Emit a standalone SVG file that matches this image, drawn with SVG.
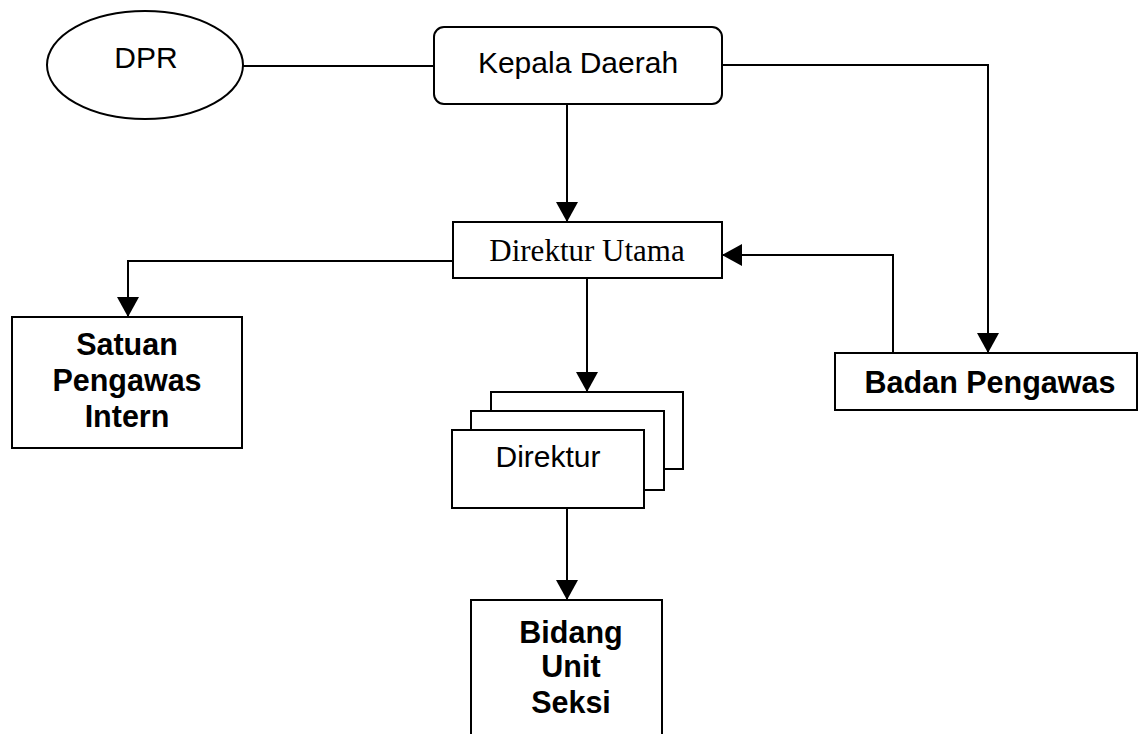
<svg xmlns="http://www.w3.org/2000/svg" width="1142" height="734" viewBox="0 0 1142 734">
<style>
.box{fill:#fff;stroke:#000;stroke-width:2}
.c{fill:none;stroke:#000;stroke-width:2}
.s{font-family:"Liberation Sans",Arial,sans-serif;font-size:30px;fill:#000;text-anchor:middle}
.b{font-family:"Liberation Sans",Arial,sans-serif;font-size:30.5px;font-weight:bold;fill:#000;text-anchor:middle}
.t{font-family:"Liberation Serif","Times New Roman",serif;font-size:31px;fill:#000;text-anchor:middle}
</style>
<defs>
<marker id="arr" markerUnits="userSpaceOnUse" markerWidth="21" markerHeight="22" refX="20" refY="11" orient="auto">
<path d="M0,0 L20,11 L0,22 Z" fill="#000"/>
</marker>
</defs>
<rect width="1142" height="734" fill="#fff"/>
<g id="connectors">
<line class="c" x1="243" y1="66" x2="434" y2="66"/>
<path class="c" d="M722,65 H988 V353" marker-end="url(#arr)"/>
<path class="c" d="M567,104 V222" marker-end="url(#arr)"/>
<path class="c" d="M453,261 H128 V317" marker-end="url(#arr)"/>
<path class="c" d="M587,278 V392" marker-end="url(#arr)"/>
<path class="c" d="M893,353 V255 H722" marker-end="url(#arr)"/>
<path class="c" d="M567,508 V600" marker-end="url(#arr)"/>
</g>
<g id="dpr">
<ellipse class="box" cx="145" cy="65" rx="98" ry="54"/>
<text class="s" x="146" y="68">DPR</text>
</g>
<g id="kepala-daerah">
<rect class="box" x="434" y="27" width="288" height="77" rx="10"/>
<text class="s" x="578" y="73">Kepala Daerah</text>
</g>
<g id="direktur-utama">
<rect class="box" x="453" y="222" width="269" height="56"/>
<text class="t" x="587" y="261">Direktur Utama</text>
</g>
<g id="satuan-pengawas-intern">
<rect class="box" x="12" y="317" width="230" height="131"/>
<text class="b" x="127" y="355">Satuan</text>
<text class="b" x="127" y="391">Pengawas</text>
<text class="b" x="127" y="427">Intern</text>
</g>
<g id="badan-pengawas">
<rect class="box" x="835" y="353" width="302" height="57"/>
<text class="b" x="990" y="393">Badan Pengawas</text>
</g>
<g id="direktur">
<rect class="box" x="491" y="392" width="192" height="77"/>
<rect class="box" x="471" y="411" width="193" height="79"/>
<rect class="box" x="452" y="430" width="192" height="78"/>
<text class="s" x="548" y="467">Direktur</text>
</g>
<g id="bidang-unit-seksi">
<rect class="box" x="471" y="600" width="191" height="140"/>
<text class="b" x="571" y="643">Bidang</text>
<text class="b" x="571" y="677">Unit</text>
<text class="b" x="571" y="713">Seksi</text>
</g>
</svg>
